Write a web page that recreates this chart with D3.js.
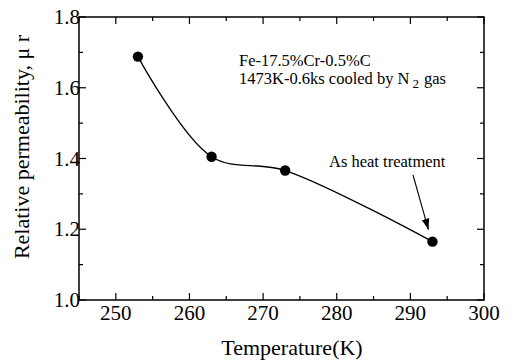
<!DOCTYPE html>
<html><head><meta charset="utf-8">
<script src="https://cdn.jsdelivr.net/npm/d3@7"></script>
<style>body{margin:0;background:#fff}svg{display:block}</style>
</head><body><svg id="c" width="515" height="362" font-family="Liberation Serif, Times New Roman, DejaVu Serif, serif"></svg>
<script>
const temperatures = [253, 263, 273, 293];
const permeability = [1.688, 1.405, 1.366, 1.165];
const xTicks = [250, 260, 270, 280, 290, 300];
const yTicks = [1.0, 1.2, 1.4, 1.6, 1.8];
const xLabel = "Temperature(K)";
const yLabel = "Relative permeability, \u03bc r";

const svg = d3.select("#c");
const m = {l:79, r:484, t:17, b:300};
const x = d3.scaleLinear().domain([245,300]).range([m.l,m.r]);
const y = d3.scaleLinear().domain([1.0,1.8]).range([m.b,m.t]);

const g = svg.append("g");
g.append("rect").attr("x",m.l).attr("y",m.t).attr("width",m.r-m.l).attr("height",m.b-m.t)
 .attr("fill","none").attr("stroke","#000").attr("stroke-width",1.5);

const xMinor = d3.range(245,301,5);
const yMinor = d3.range(10,19).map(v=>v/10);
function isMajorX(v){return v%10===0;}
function isMajorY(v){return Math.round(v*10)%2===0;}
xMinor.forEach(v=>{
  const L = isMajorX(v)?7:4;
  g.append("line").attr("x1",x(v)).attr("x2",x(v)).attr("y1",m.b).attr("y2",m.b-L).attr("stroke","#000").attr("stroke-width",1.2);
  g.append("line").attr("x1",x(v)).attr("x2",x(v)).attr("y1",m.t).attr("y2",m.t+L).attr("stroke","#000").attr("stroke-width",1.2);
});
yMinor.forEach(v=>{
  const L = isMajorY(v)?7:4;
  g.append("line").attr("y1",y(v)).attr("y2",y(v)).attr("x1",m.l).attr("x2",m.l+L).attr("stroke","#000").attr("stroke-width",1.2);
  g.append("line").attr("y1",y(v)).attr("y2",y(v)).attr("x1",m.r).attr("x2",m.r-L).attr("stroke","#000").attr("stroke-width",1.2);
});
xTicks.forEach(v=>{
  g.append("text").attr("x",x(v)).attr("y",320).attr("text-anchor","middle").attr("font-size",21).text(v);
});
yTicks.forEach(v=>{
  g.append("text").attr("x",m.l+1).attr("y",y(v)+7).attr("text-anchor","end").attr("font-size",21).text(v.toFixed(1));
});
g.append("text").attr("x",292).attr("y",355).attr("text-anchor","middle").attr("font-size",22).text(xLabel);
g.append("text").attr("transform","translate(29,147) rotate(-90)").attr("text-anchor","middle").attr("font-size",22).text(yLabel);

const pts = temperatures.map((t,i)=>[t,permeability[i]]);
const line = d3.line().x(d=>x(d[0])).y(d=>y(d[1])).curve(d3.curveCatmullRom.alpha(0.5));
g.append("path").attr("d",line(pts)).attr("fill","none").attr("stroke","#000").attr("stroke-width",1.3);
g.selectAll("circle.p").data(pts).enter().append("circle")
 .attr("cx",d=>x(d[0])).attr("cy",d=>y(d[1])).attr("r",5.2).attr("fill","#000");

g.append("text").attr("x",239).attr("y",66).attr("font-size",16.5).text("Fe-17.5%Cr-0.5%C");
const t2 = g.append("text").attr("x",239).attr("y",84).attr("font-size",16.5);
t2.append("tspan").text("1473K-0.6ks cooled by N");
t2.append("tspan").attr("dy",4).attr("font-size",13).attr("dx",3).text("2");
t2.append("tspan").attr("dy",-4).attr("dx",5).text("gas");
g.append("text").attr("x",329).attr("y",167).attr("font-size",16.5).text("As heat treatment");

svg.append("defs").append("marker").attr("id","ah").attr("viewBox","0 0 10 10").attr("refX",10).attr("refY",5)
 .attr("markerWidth",11).attr("markerHeight",11).attr("markerUnits","userSpaceOnUse").attr("orient","auto")
 .append("path").attr("d","M0,1.5 L10,5 L0,8.5 Z").attr("fill","#000");
const tip = [x(293)-4, y(1.165)-12];
g.append("line").attr("x1",413).attr("y1",175).attr("x2",tip[0]).attr("y2",tip[1])
 .attr("stroke","#000").attr("stroke-width",1.1).attr("marker-end","url(#ah)");
</script></body></html>
